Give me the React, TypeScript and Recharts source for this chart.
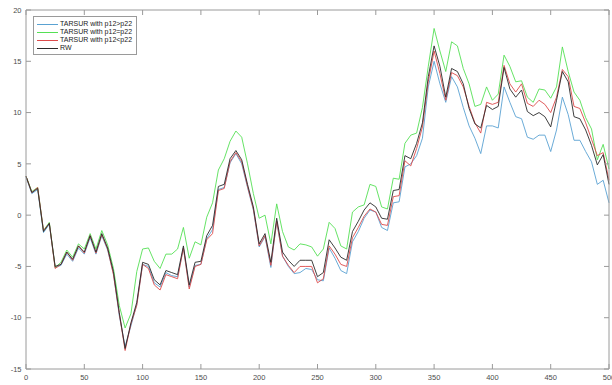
import React from 'react';
import { LineChart, Line, XAxis, YAxis, Legend } from 'recharts';

// Paths sampled every 5 steps, t = 0..500
const higherP12 = [
  3.7, 2.1, 2.5, -1.7, -0.9, -5.1, -4.9, -3.8, -4.5, -3.2,
  -3.8, -2.2, -3.8, -2.0, -3.4, -5.7, -9.8, -12.8, -10.8, -8.7,
  -4.8, -5.0, -6.6, -7.0, -5.6, -5.9, -6.0, -3.2, -7.0, -4.9,
  -4.8, -2.3, -1.4, 2.5, 2.7, 5.1, 6.0, 5.0, 2.7, 0.5,
  -3.1, -2.1, -5.1, -0.6, -4.0, -5.0, -5.7, -5.6, -5.2, -5.3,
  -6.3, -6.4, -3.2, -4.2, -5.4, -5.7, -2.6, -1.6, -0.3, 0.5,
  0.3, -1.2, -1.5, 1.2, 1.3, 4.7, 5.0, 5.8, 7.5, 12.5,
  15.0, 12.8, 11.0, 13.5, 12.5, 10.5, 8.7, 7.5, 6.0, 8.7,
  8.7, 8.5, 12.5, 11.0, 9.6, 9.4, 7.6, 7.4, 7.8, 7.8,
  6.2, 8.3, 11.5, 9.8, 7.3, 7.3, 6.2, 5.2, 3.0, 3.4,
  1.2,
];

const equalP12 = [
  3.8, 2.3, 2.7, -1.5, -0.7, -5.1, -4.6, -3.4, -4.1, -2.8,
  -3.3, -1.8, -3.3, -1.5, -2.9, -5.2, -8.8, -11.0, -9.6, -5.5,
  -3.3, -3.2, -4.5, -5.2, -3.8, -3.8, -3.3, -1.2, -4.2, -2.6,
  -2.9, -0.2, 1.2, 4.4, 5.5, 7.2, 8.2, 7.6, 5.0, 2.1,
  -0.3, 0.0, -2.8, 1.1, -1.6, -3.1, -3.4, -2.8, -2.9, -3.1,
  -4.0, -3.3, -0.7, -1.3, -3.0, -3.3, 0.3, 0.8, 1.0, 3.0,
  2.8, 0.8, 0.6, 3.6, 3.5, 7.0, 7.8, 8.0, 10.5, 14.5,
  18.2, 16.0, 14.0, 16.9, 16.5, 14.3, 12.8, 10.6, 10.8, 12.5,
  11.2, 11.8, 15.6, 14.5, 13.0, 13.1, 11.5, 11.0, 12.3, 12.2,
  11.4, 12.5, 16.4, 14.0, 12.0, 11.2, 9.5, 8.4, 5.4, 6.9,
  4.5,
];

const lowerP12 = [
  3.8, 2.2, 2.7, -1.5, -0.8, -5.2, -4.8, -3.6, -4.4, -3.0,
  -3.7, -2.0, -3.7, -1.9, -3.3, -5.8, -9.6, -13.2, -10.6, -8.8,
  -4.8, -5.2, -6.8, -7.3, -5.8, -6.0, -6.2, -3.2, -7.2, -5.0,
  -4.8, -2.4, -1.8, 2.4, 2.6, 5.2, 6.1, 5.2, 2.8, 0.6,
  -3.0, -2.0, -4.9, -0.6, -4.0, -4.9, -5.6, -5.0, -5.0, -5.0,
  -6.6, -6.2, -3.0, -3.8, -4.8, -5.0, -2.2, -1.2, -0.1, 0.6,
  0.3, -0.9, -1.0, 1.8, 1.9, 5.3, 4.8, 6.5, 8.6, 13.0,
  16.0, 13.8, 11.2, 13.9, 13.6, 12.5, 10.6, 9.0, 8.0, 11.0,
  10.8, 11.0, 14.6, 12.8, 12.0, 12.8, 10.9, 10.6, 11.2, 10.8,
  10.0, 11.5, 14.2, 13.5, 10.6, 10.4, 9.0, 7.4, 5.8, 6.1,
  3.4,
];

const randomWalk = [
  3.8, 2.2, 2.6, -1.6, -0.8, -5.0, -4.8, -3.6, -4.3, -3.0,
  -3.6, -2.0, -3.6, -1.8, -3.2, -5.5, -9.5, -13.0, -10.5, -8.5,
  -4.6, -4.8, -6.3, -6.8, -5.4, -5.6, -5.8, -3.0, -6.8, -4.6,
  -4.5, -2.0, -1.0, 2.8, 3.0, 5.5, 6.3, 5.4, 3.0, 0.8,
  -2.8, -1.8, -4.6, -0.3, -3.6, -4.4, -5.0, -4.4, -4.4, -4.4,
  -6.0, -5.6, -2.4, -3.2, -4.1, -4.4, -1.6, -0.6, 0.5, 1.2,
  0.8, -0.3, -0.4, 2.4, 2.5, 5.8, 5.5, 7.0, 9.0, 13.5,
  16.5, 14.5, 11.5, 14.3, 14.0, 12.8, 10.4, 8.9, 8.5, 10.7,
  10.3, 10.6, 14.4, 12.3, 11.5, 12.2, 10.1, 9.7, 10.0, 9.6,
  8.6, 11.2, 14.0, 13.0, 9.6, 9.4, 8.3, 6.8, 4.9, 5.9,
  3.0,
];

const xTicks = [0, 50, 100, 150, 200, 250, 300, 350, 400, 450, 500];
const yTicks = [-15, -10, -5, 0, 5, 10, 15, 20];

const series = [
  { key: 'higher', name: 'TARSUR with p12>p22', color: '#5aa2d2' },
  { key: 'equal', name: 'TARSUR with p12=p22', color: '#55e055' },
  { key: 'lower', name: 'TARSUR with p12<p22', color: '#dd4b4b' },
  { key: 'rw', name: 'RW', color: '#2a2a2a' },
];

const data = randomWalk.map((v, i) => ({
  t: i * 5,
  higher: higherP12[i],
  equal: equalP12[i],
  lower: lowerP12[i],
  rw: v,
}));

const AXIS = '#9a9a9a';
const FONT = '"Liberation Sans", Arial, sans-serif';
const tickFont = { fontSize: 7.5, fill: '#4d4d4d', fontFamily: FONT };

// legend keeps the plotting order instead of recharts' alphabetical sort
function LegendBox() {
  return (
    <div
      style={{
        border: '1px solid #9a9a9a',
        background: '#fff',
        padding: '3px 4px 2px 3px',
        fontFamily: FONT,
        fontSize: 7,
        color: '#222',
        lineHeight: '8px',
      }}
    >
      {series.map((s) => (
        <div key={s.key} style={{ display: 'flex', alignItems: 'center', whiteSpace: 'nowrap' }}>
          <span style={{ display: 'inline-block', width: 21, height: 0, borderTop: `1px solid ${s.color}`, marginRight: 2 }} />
          <span>{s.name}</span>
        </div>
      ))}
    </div>
  );
}

const noLabel = () => <g />;

export default function App() {
  return (
    <div style={{ position: 'absolute', left: 0, top: 0, width: 612, height: 385, background: '#fff' }}>
      <style>{'body{margin:0}'}</style>
      <LineChart width={612} height={385} data={data} margin={{ top: 9, right: 2, bottom: 0, left: 0 }}>
        <XAxis
          dataKey="t"
          type="number"
          domain={[0, 500]}
          ticks={xTicks}
          interval={0}
          height={16}
          stroke={AXIS}
          tickSize={-5}
          tickMargin={11}
          tick={tickFont}
        />
        <XAxis
          xAxisId="top"
          dataKey="t"
          orientation="top"
          type="number"
          domain={[0, 500]}
          allowDataOverflow
          ticks={xTicks}
          interval={0}
          height={1}
          stroke={AXIS}
          tickSize={-5}
          tick={noLabel}
        />
        <YAxis
          type="number"
          domain={[-15, 20]}
          ticks={yTicks}
          interval={0}
          width={26}
          stroke={AXIS}
          tickSize={-5}
          tickMargin={9.5}
          tick={tickFont}
        />
        <YAxis
          yAxisId="right"
          orientation="right"
          type="number"
          domain={[-15, 20]}
          allowDataOverflow
          ticks={yTicks}
          interval={0}
          width={1}
          stroke={AXIS}
          tickSize={-5}
          tick={noLabel}
        />
        <Legend
          layout="vertical"
          align="center"
          verticalAlign="middle"
          wrapperStyle={{ top: 16, left: 33, width: 'auto' }}
          content={<LegendBox />}
        />
        {series.map((s) => (
          <Line
            key={s.key}
            dataKey={s.key}
            name={s.name}
            stroke={s.color}
            strokeWidth={0.9}
            dot={false}
            type="linear"
            isAnimationActive={false}
          />
        ))}
        {/* carries the top and right box axes */}
        <Line
          dataKey="rw"
          xAxisId="top"
          yAxisId="right"
          stroke="none"
          dot={false}
          activeDot={false}
          legendType="none"
          isAnimationActive={false}
        />
      </LineChart>
    </div>
  );
}
